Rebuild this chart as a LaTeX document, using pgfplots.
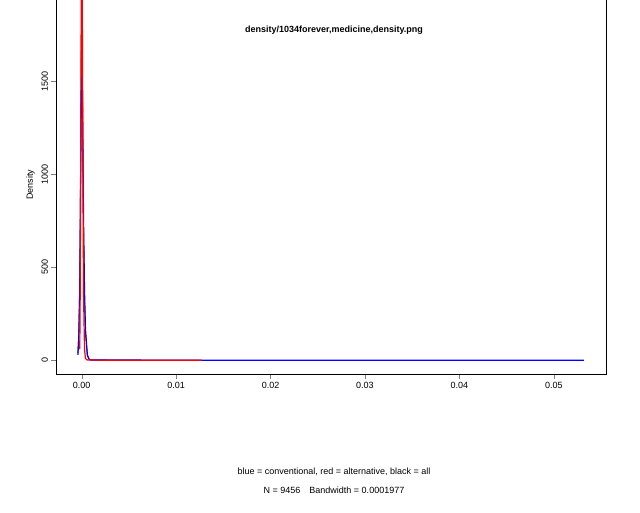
\documentclass[border=0pt]{standalone}
\usepackage{pgfplots}
\pgfplotsset{compat=1.18}
\usepackage{fontspec}
\setmainfont{Liberation Sans}
\begin{document}
\begin{tikzpicture}[x=1pt,y=1pt]
\useasboundingbox[fill=white] (0,0) rectangle (640,512);
\begin{axis}[at={(59,74)},anchor=south west,scale only axis,width=550pt,height=379pt,
 xmin=-0.00275,xmax=0.0555,ymin=-75,ymax=1962,
 xtick={0,0.01,0.02,0.03,0.04,0.05},xticklabels={0.00,0.01,0.02,0.03,0.04,0.05},
 scaled x ticks=false,
 ytick={0,500,1000,1500},yticklabel style={rotate=90},
 xtick pos=left,ytick pos=left,
 tick align=outside,axis line style={black},
 /pgf/number format/assume math mode=true,
 /pgf/number format/1000 sep={},
 ticklabel style={font=\small},
 ylabel={Density},ylabel style={font=\small},
 clip=true]
\addplot[black,thick] coordinates {(-0.0004,40)(-0.0003,150)(-0.0002,450)(-0.0001,1100)(0,1890)(0.0001,1350)(0.0002,700)(0.0003,330)(0.0004,150)(0.0006,25)(0.0008,5)(0.001,2)(0.003,1)(0.008,0.5)(0.0127,0.3)};
\addplot[blue,very thick] coordinates {(-0.0004,30)(-0.0003,130)(-0.0002,400)(-0.0001,1000)(0,1677)(0.0001,1300)(0.0002,750)(0.0003,380)(0.0004,170)(0.0006,30)(0.0008,5)(0.001,2)(0.01,1)(0.02,0.5)(0.03,0.5)(0.04,0.5)(0.0532,0.3)};
\addplot[red,very thick] coordinates {(-0.0002,60)(-0.00015,400)(-0.0001,1200)(-0.00005,1900)(0,2300)(0.00005,2100)(0.0001,1500)(0.00015,800)(0.0002,350)(0.0003,60)(0.0004,10)(0.0006,2)(0.002,1)(0.008,1)(0.0127,0.5)};
\end{axis}
\node[font=\small\bfseries] at (334,482) {density/1034forever,medicine,density.png};
\node[font=\small] at (334,40) {blue = conventional, red = alternative, black = all};
\node[font=\small] at (334,22) {N = 9456\quad Bandwidth = 0.0001977};
\end{tikzpicture}
\end{document}
